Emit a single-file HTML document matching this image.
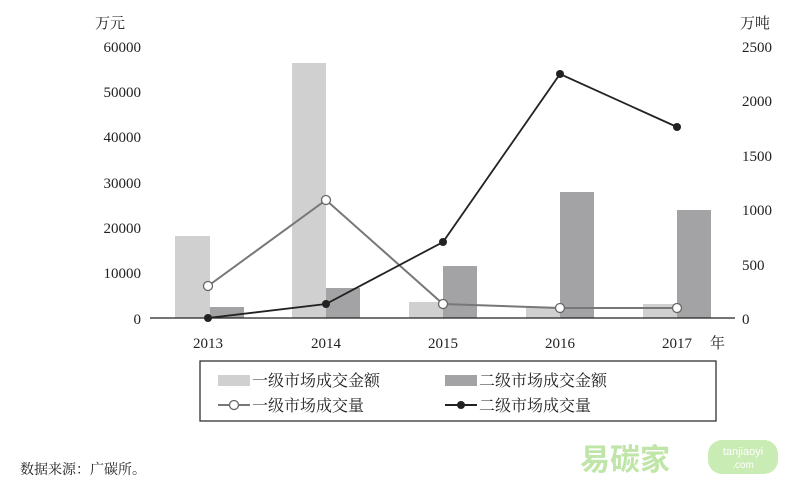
<!DOCTYPE html>
<html><head><meta charset="utf-8"><style>
body{margin:0;background:#fff;}
svg{display:block;font-family:"Liberation Serif","Noto Serif CJK SC",serif;}
</style></head><body>
<svg width="786" height="486" viewBox="0 0 786 486">
<g font-size="15" fill="#222">
<text x="95" y="28">万元</text>
<text x="740" y="28">万吨</text>
<g text-anchor="end">
<text x="141" y="52">60000</text><text x="141" y="97">50000</text><text x="141" y="142">40000</text>
<text x="141" y="188">30000</text><text x="141" y="233">20000</text><text x="141" y="278">10000</text><text x="141" y="324">0</text>
</g>
<text x="742" y="52">2500</text><text x="742" y="106">2000</text><text x="742" y="161">1500</text>
<text x="742" y="215">1000</text><text x="742" y="270">500</text><text x="742" y="324">0</text>
<g text-anchor="middle">
<text x="208" y="348">2013</text><text x="326" y="348">2014</text><text x="443" y="348">2015</text>
<text x="560" y="348">2016</text><text x="677" y="348">2017</text>
</g>
<text x="710" y="348">年</text>
</g>
<g fill="#d0d0d1">
<rect x="175" y="236" width="35" height="82"/><rect x="292" y="63" width="34" height="255"/>
<rect x="409" y="302" width="34" height="16"/><rect x="526" y="307" width="34" height="11"/>
<rect x="643" y="304" width="34" height="14"/>
</g>
<g fill="#a3a3a5">
<rect x="210" y="307" width="34" height="11"/><rect x="326" y="288" width="34" height="30"/>
<rect x="443" y="266" width="34" height="52"/><rect x="560" y="192" width="34" height="126"/>
<rect x="677" y="210" width="34" height="108"/>
</g>
<line x1="150" y1="318" x2="735" y2="318" stroke="#222" stroke-width="1.2"/>
<polyline points="208,286 326,200 443,304 560,308 677,308" fill="none" stroke="#777" stroke-width="2"/>
<g fill="#fff" stroke="#666" stroke-width="1.3">
<circle cx="208" cy="286" r="4.5"/><circle cx="326" cy="200" r="4.5"/><circle cx="443" cy="304" r="4.5"/>
<circle cx="560" cy="308" r="4.5"/><circle cx="677" cy="308" r="4.5"/>
</g>
<polyline points="208,318 326,304 443,242 560,74 677,127" fill="none" stroke="#222" stroke-width="1.8"/>
<g fill="#222">
<circle cx="208" cy="318" r="4"/><circle cx="326" cy="304" r="4"/><circle cx="443" cy="242" r="4"/>
<circle cx="560" cy="74" r="4"/><circle cx="677" cy="127" r="4"/>
</g>
<rect x="200" y="361" width="516" height="60" fill="none" stroke="#222" stroke-width="1.2"/>
<rect x="218" y="375" width="32" height="11" fill="#d0d0d1"/>
<rect x="445" y="375" width="32" height="11" fill="#a3a3a5"/>
<line x1="218" y1="405" x2="250" y2="405" stroke="#777" stroke-width="2"/>
<circle cx="234" cy="405" r="4.5" fill="#fff" stroke="#666" stroke-width="1.3"/>
<line x1="445" y1="405" x2="477" y2="405" stroke="#222" stroke-width="2"/>
<circle cx="461" cy="405" r="4" fill="#222"/>
<g font-size="16" fill="#222">
<text x="252" y="386">一级市场成交金额</text><text x="479" y="386">二级市场成交金额</text>
<text x="252" y="411">一级市场成交量</text><text x="479" y="411">二级市场成交量</text>
</g>
<text x="20" y="474" font-size="14" fill="#222">数据来源：广碳所。</text>
<text x="580" y="470" font-size="30" font-weight="bold" fill="#bfe6a8" font-family="Liberation Sans,'Noto Sans CJK SC',sans-serif">易碳家</text>
<rect x="708" y="440" width="70" height="34" rx="14" fill="#c9ebb4"/>
<text x="743" y="455" font-size="11" fill="#fff" text-anchor="middle" font-family="Liberation Sans,sans-serif">tanjiaoyi</text>
<text x="743" y="468" font-size="10" fill="#fff" text-anchor="middle" font-family="Liberation Sans,sans-serif">.com</text>
</svg>
</body></html>
